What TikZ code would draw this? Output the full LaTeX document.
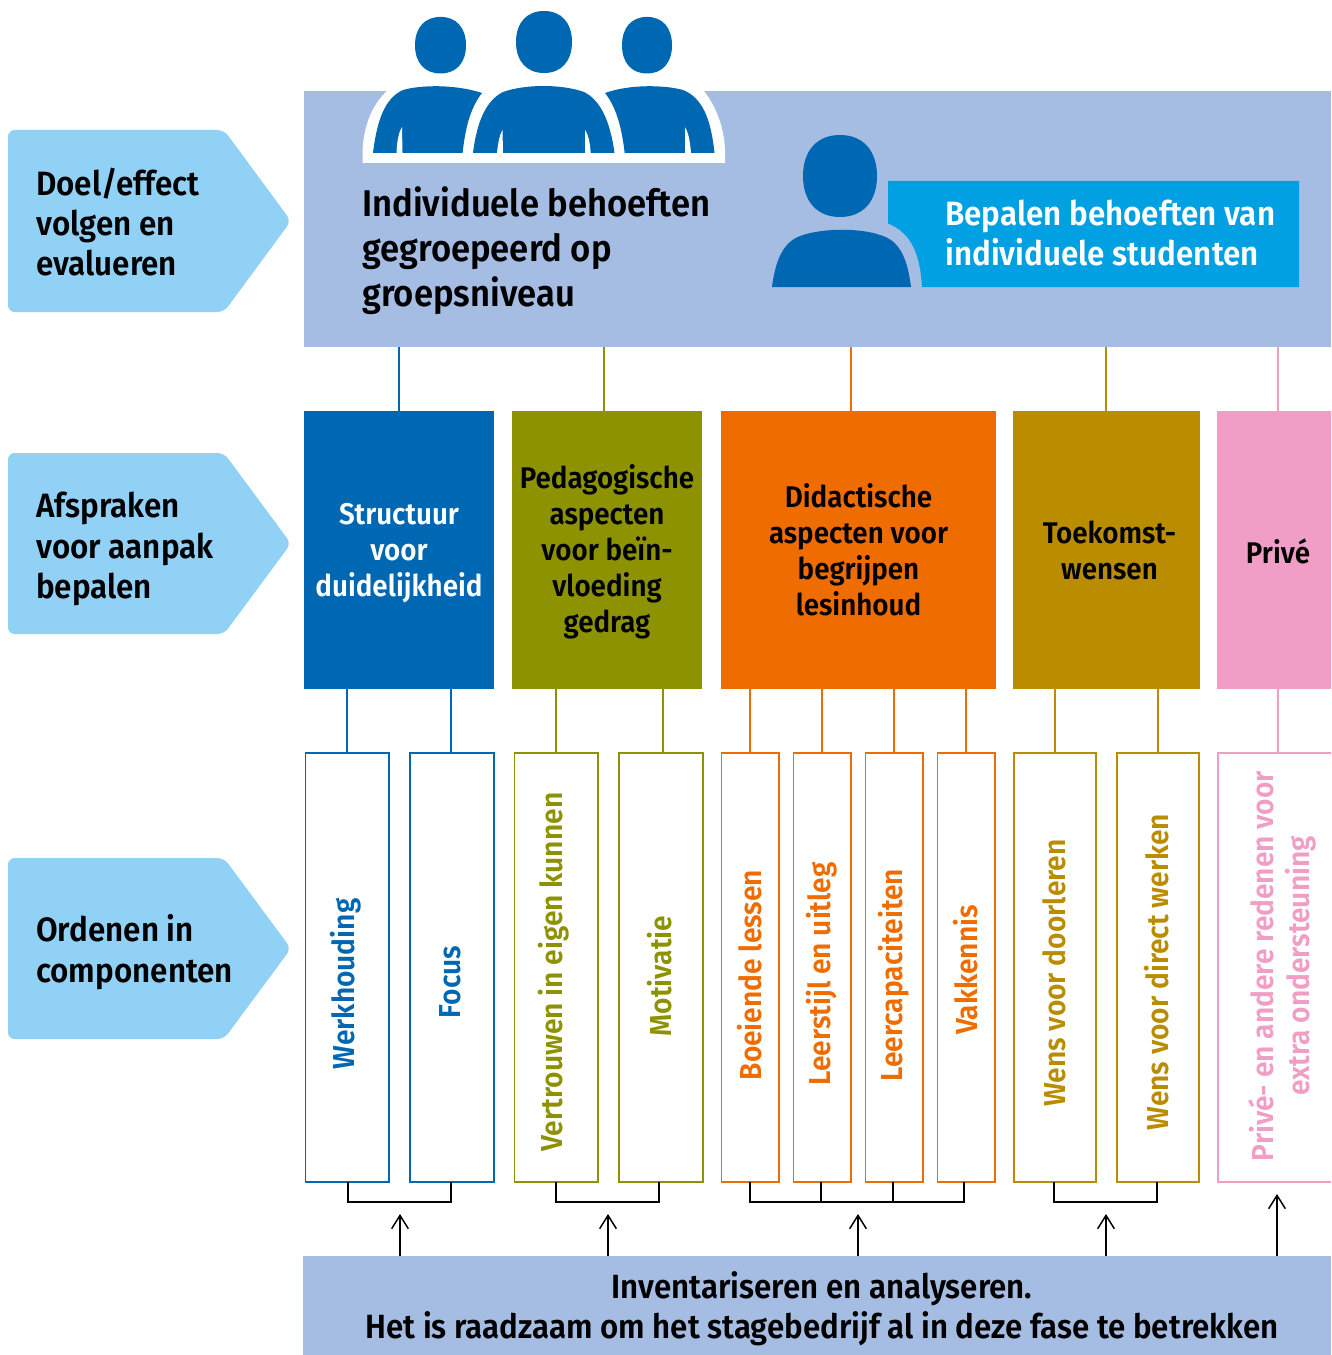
\documentclass[tikz,border=0pt]{standalone}
\usepackage{fontspec}
\setmainfont{Fira Sans}[FakeStretch=0.93,BoldFont=* SemiBold]
\usetikzlibrary{arrows.meta,calc}
\definecolor{hdrbg}{HTML}{A5BCE3}
\definecolor{arrowbg}{HTML}{90D1F5}
\definecolor{iconblue}{HTML}{0067B2}
\definecolor{boxcyan}{HTML}{00A0E3}
\definecolor{cblue}{HTML}{0067B2}
\definecolor{cgreen}{HTML}{8C9200}
\definecolor{corange}{HTML}{EE6C00}
\definecolor{cgold}{HTML}{BA8C00}
\definecolor{cpink}{HTML}{F09EC5}
\newcommand{\firstline}{\rule{0pt}{20pt}}
\newcommand{\headshape}[4]{% cx cy rx ry
  \fill[iconblue] (#1-#3,#2) .. controls (#1-#3,#2-0.62*#4) and (#1-0.62*#3,#2-#4) .. (#1,#2-#4)
  .. controls (#1+0.62*#3,#2-#4) and (#1+#3,#2-0.62*#4) .. (#1+#3,#2)
  .. controls (#1+#3,#2+0.62*#4) and (#1+0.62*#3,#2+#4) .. (#1,#2+#4)
  .. controls (#1-0.62*#3,#2+#4) and (#1-#3,#2+0.62*#4) .. (#1-#3,#2) -- cycle;}
\tikzset{
  steparrow/.style={fill=arrowbg,rounded corners=5pt},
  lblfont/.style={font=\fontsize{25.3}{30.3}\selectfont\bfseries},
  whitefont/.style={font=\fontsize{25.3}{30}\selectfont\bfseries},
  steplbl/.style={lblfont,align=left,anchor=west,inner sep=0pt,text=black},
  catbox/.style={anchor=north west,inner sep=0pt,outer sep=0pt,minimum height=208.5pt,align=center,font=\fontsize{22.4}{27}\selectfont\bfseries},
  compbox/.style={anchor=north west,inner sep=0pt,outer sep=0pt,minimum height=321.75pt,draw=#1,fill=white,line width=1.2pt},
  comptxt/.style={rotate=90,inner sep=0pt,align=center,text=#1,font=\fontsize{22.7}{27}\selectfont\bfseries},
  barbox/.style={fill=hdrbg,inner sep=0pt,outer sep=0pt,anchor=north west},
  link/.style={line width=1.1pt,draw=#1},
  bracket/.style={line width=1.1pt,draw=black},
  up/.style={line width=1.1pt,draw=black,-{Straight Barb[length=10pt,width=12.5pt,line width=1.1pt]}},
}
\begin{document}
\begin{tikzpicture}[x=0.75pt,y=-0.75pt]
\useasboundingbox (0,0) rectangle (1331,1355);
\clip (0,0) rectangle (1331,1355);
% header
\node[barbox,minimum width=770.25pt,minimum height=192pt] (hdr) at (304,91) {};
% bottom bar
\node[barbox,minimum width=771pt,minimum height=74.25pt] (bar) at (303,1256) {};
\node[inner sep=0pt,align=center,font=\fontsize{25.2}{30}\selectfont\bfseries] (bartxt) at (822,1309) {Inventariseren en analyseren.\\Het is raadzaam om het stagebedrijf al in deze fase te betrekken};
% step arrows
\fill[steparrow] (8,130) -- (224,130) -- (291,221) -- (224,312) -- (8,312) -- cycle;
\fill[steparrow] (8,453) -- (224,453) -- (291,543.5) -- (224,634) -- (8,634) -- cycle;
\fill[steparrow] (8,858) -- (224,858) -- (291,948.5) -- (224,1039) -- (8,1039) -- cycle;
\node[steplbl] (a1) at (36,222) {Doel/effect\\volgen en\\evalueren};
\node[steplbl] (a2) at (36,549) {Afspraken\\voor aanpak\\bepalen};
\node[steplbl] (a3) at (36,952) {Ordenen in\\componenten};
% group icon
\fill[white] (362.5,163) -- (362.5,150) .. controls (364,125) and (372,105) .. (387,91) -- (704,91) .. controls (717,108) and (724,128) .. (725,150) -- (725,163) -- cycle;
\headshape{440.5}{45.2}{25.5}{28.3}
\headshape{544}{42}{28}{31}
\headshape{647}{45.2}{25}{28.3}
\fill[iconblue] (373,153) .. controls (377,120) and (385,98) .. (403,90) .. controls (420,85) and (455,84) .. (482,93) .. controls (470,108) and (465,130) .. (462.6,153) -- cycle;
\fill[iconblue] (473,153) .. controls (477,120) and (487,100) .. (503,92) .. controls (525,84) and (562,84) .. (584,92) .. controls (600,100) and (610,120) .. (614.5,153) -- cycle;
\fill[iconblue] (605,93) .. controls (630,84) and (665,85) .. (683,90) .. controls (703,98) and (711,120) .. (714.5,153) -- (624.7,153) .. controls (622,130) and (617,108) .. (605,93) -- cycle;
\fill[white] (396.5,153) .. controls (397,140) and (399,132) .. (402,127) -- (402.5,153) -- cycle;
\fill[white] (497,153) .. controls (498,142) and (500,134) .. (502.5,130) -- (503,153) -- cycle;
\fill[white] (590.7,153) .. controls (590,142) and (588,134) .. (585,130) -- (585,153) -- cycle;
\fill[white] (691,153) .. controls (690,140) and (688,132) .. (685,127) -- (685,153) -- cycle;
\node[inner sep=0pt,align=left,anchor=west,font=\fontsize{27.9}{33.75}\selectfont\bfseries] (htxt) at (362,251) {Individuele behoeften\\gegroepeerd op\\groepsniveau};
% single person and cyan box
\fill[boxcyan] (888,181) -- (1299,181) -- (1299,287) -- (922,287) .. controls (920,255) and (912,233) .. (888,223.5) -- cycle;
\headshape{840}{176}{37}{41}
\fill[iconblue] (772,287) .. controls (776,255) and (786,240) .. (803,235) .. controls (825,228) and (860,228) .. (880,235) .. controls (898,240) and (907,255) .. (911,287) -- cycle;
\node[inner sep=0pt,align=left,anchor=west,text=white,whitefont] (itxt) at (945,233) {Bepalen behoeften van\\individuele studenten};
% categories
\node[catbox,fill=cblue,text=white,minimum width=142.5pt] (c1) at (304,411) {\firstline Structuur\\voor\hspace*{4pt}\\duidelijkheid};
\node[catbox,fill=cgreen,text=black,minimum width=142.5pt] (c2) at (512,411) {\firstline Pedagogische\\aspecten\\voor beïn-\\vloeding\\gedrag};
\node[catbox,fill=corange,text=black,minimum width=206.25pt] (c3) at (721,411) {Didactische\\aspecten voor\\begrijpen\\lesinhoud};
\node[catbox,fill=cgold,text=black,minimum width=140.25pt] (c4) at (1013,411) {\hspace*{4.5pt}Toekomst-\\\hspace*{4.5pt}wensen};
\node[catbox,fill=cpink,text=black,minimum width=91.5pt] (c5) at (1217,411) {\firstline Privé};
% header links
\foreach \n/\x/\c in {1/399/cblue,2/604/cgreen,3/851/corange,4/1106/cgold,5/1278/cpink}{
  \coordinate (t\n) at (\x,411);
  \draw[link=\c] (t\n) -- (t\n |- hdr.south);
}
% components
\node[compbox=cblue,minimum width=62.6pt] (k1) at (305.5,753) {};
\node[compbox=cblue,minimum width=63pt] (k2) at (410,753) {};
\node[compbox=cgreen,minimum width=62.6pt] (k3) at (514.5,753) {};
\node[compbox=cgreen,minimum width=63pt] (k4) at (619,753) {};
\node[compbox=corange,minimum width=43.1pt] (k5) at (721.5,753) {};
\node[compbox=corange,minimum width=43.1pt] (k6) at (793.5,753) {};
\node[compbox=corange,minimum width=43.1pt] (k7) at (865.5,753) {};
\node[compbox=corange,minimum width=43.1pt] (k8) at (937.5,753) {};
\node[compbox=cgold,minimum width=61.5pt] (k9) at (1014,753) {};
\node[compbox=cgold,minimum width=61.5pt] (k10) at (1117,753) {};
\node[compbox=cpink,minimum width=96pt] (k11) at (1218,753) {};
\node[comptxt=cblue] at (346,984) (l1) {Werkhouding};
\node[comptxt=cblue] at (450,982) (l2) {Focus};
\node[comptxt=cgreen] at (554,972) (l3) {Vertrouwen in eigen kunnen};
\node[comptxt=cgreen] at (660,976) (l4) {Motivatie};
\node[comptxt=corange] at (750,975) (l5) {Boeiende lessen};
\node[comptxt=corange] at (822,974) (l6) {Leerstijl en uitleg};
\node[comptxt=corange] at (894,975) (l7) {Leercapaciteiten};
\node[comptxt=corange] at (966,970) (l8) {Vakkennis};
\node[comptxt=cgold] at (1054,973) (l9) {Wens voor doorleren};
\node[comptxt=cgold] at (1157,972) (l10) {Wens voor direct werken};
\node[comptxt=cpink] at (1282,966) (l11) {Privé- en andere redenen voor\\extra ondersteuning};
% category to component links
\foreach \k/\x/\cat/\c in {k1/347/c1/cblue,k2/451/c1/cblue,k3/556/c2/cgreen,k4/663/c2/cgreen,k5/750/c3/corange,k6/822/c3/corange,k7/894/c3/corange,k8/966/c3/corange,k9/1055/c4/cgold,k10/1158/c4/cgold,k11/1278/c5/cpink}{
  \coordinate (m\k) at (\x,753);
  \draw[link=\c] (m\k) -- (m\k |- \cat.south);
}
% brackets
\coordinate (b1) at (348,1202); \coordinate (b2) at (451,1202);
\coordinate (b3) at (556,1202); \coordinate (b4) at (659,1202);
\coordinate (b5) at (750,1202); \coordinate (b6) at (821,1202);
\coordinate (b7) at (893,1202); \coordinate (b8) at (964,1202);
\coordinate (b9) at (1054,1202); \coordinate (b10) at (1157,1202);
\draw[bracket] (b1 |- k1.south) -- (b1) -- (b2) -- (b2 |- k2.south);
\draw[bracket] (b3 |- k3.south) -- (b3) -- (b4) -- (b4 |- k4.south);
\draw[bracket] (b5 |- k5.south) -- (b5) -- (b8) -- (b8 |- k8.south);
\draw[bracket] (b6 |- k6.south) -- (b6);
\draw[bracket] (b7 |- k7.south) -- (b7);
\draw[bracket] (b9 |- k9.south) -- (b9) -- (b10) -- (b10 |- k10.south);
% up arrows
\coordinate (u1) at (400,1214); \coordinate (u2) at (608,1214); \coordinate (u3) at (858,1214);
\coordinate (u4) at (1106,1214); \coordinate (u5) at (1277,1194);
\foreach \n in {1,...,5}{ \draw[up] (u\n |- bar.north) -- (u\n); }
\end{tikzpicture}
\end{document}
